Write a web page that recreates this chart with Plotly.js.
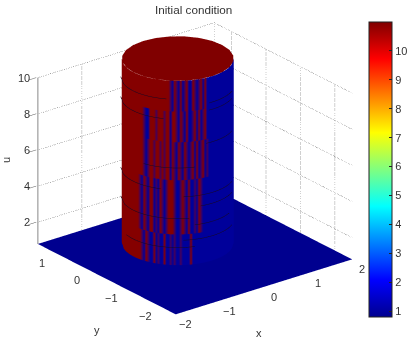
<!DOCTYPE html>
<html><head><meta charset="utf-8">
<script src="https://cdn.plot.ly/plotly-3.0.1.min.js"></script>
<style>html,body{margin:0;padding:0;background:#fff}#c{width:415px;height:344px}</style>
</head><body><div id="c"></div>
<script>
// ---- data ----
const floorX = [-2, 2];
const floorY = [-2.5, 1.5];
const floorU = [[0.8, 0.8], [0.8, 0.8]];
const topU = 11;
const radius = 1;
const capAngles = [0,15,30,45,60,75,90,105,120,135,150,165,180,195,210,225,240,255,270,285,300,315,330,345,360];
const capRadii = [0, 1];
const colorTicks = [1,2,3,4,5,6,7,8,9,10];
const zTicks = [2,4,6,8,10];
const xTicks = [-2,-1,0,1,2];
const yTicks = [-2,-1,0,1];
const xTickText = ['−2','−1','0','1','2'];
const yTickText = ['−2','−1','0','1'];
const gridLevels = [2,4,6,8,10];
const gridXs = [-1,0,1];
const gridYs = [-2,-1,0,1];
// wall colour bands, bottom to top: r = red, m = mixed, b = blue (left-to-right on screen)
const bandHeights = [0.8, 2.5, 2.5, 5.5, 5.5, 7.6, 7.6, 9.3, 9.3, 11];
const bandD = 'rrrrrrrrrrmbrmbbrbmbbrbbmbmbbmbbbbrbbbbbbbbbbbbbbbbbbbbb';
const bandC = 'rrrrrrrrrmbrmbrrbmbrmbmrrrmbbmrmbrbbmbrmbbbbbbbbbbbbbbbb';
const bandE = 'rrrrrrrrrrrmbmrrmrrmrmrrbrmbrmbrmbmrbrbmrbmbbbbbbbbbbbbb';
const bandB = 'rrrrrrrrrrrmbbrrrmrrrmrrbrrmbrmbrbbmrbrbmrbbbbbbbbbbbbbb';
const bandA = 'rrrrrrrrrrrrrrrrrrrrrrrrmbrmbrbmrbbrmbmrbrbbbbbbbbbbbbbb';
const bandOrder = [bandD, bandD, bandC, bandC, bandE, bandE, bandB, bandB, bandA, bandA];
const bandLevel = {r: 0, m: 0.5, b: 1};
// dark rings on the wall: height, start and end across the wall (-1 left, 1 right)
const ringHeights = [10.0, 8.9, 9.6, 9.2, 7.4, 6.2, 4.6, 4.0, 3.4, 2.2, 1.8, 3.0, 5.0];
const ringStarts  = [-1.0, -1.0, 0.55, 0.55, 0.5, -0.6, 0.1, 0.4, -1.0, 0.1, -0.9, 0.3, -1.0];
const ringEnds    = [-0.2, -0.25, 0.95, 0.95, 0.95, 0.3, 0.95, 0.95, 0.2, 0.95, 0.3, 0.9, -0.3];

// ---- view and helper geometry ----
const az = 38 * Math.PI / 180, el = 23.5 * Math.PI / 180;
const R = [Math.cos(az), -Math.sin(az)], F = [-Math.sin(az), -Math.cos(az)];
function wallPoint(d) {
  const h = Math.sqrt(Math.max(0, 1 - d * d));
  return [radius * (d * R[0] + h * F[0]), radius * (d * R[1] + h * F[1])];
}
const jet = [[0,'#00008f'],[0.125,'#0000ff'],[0.375,'#00ffff'],[0.625,'#ffff00'],[0.875,'#ff0000'],[1,'#800000']];
const cmin = 0.8, cmax = 11;
const flat = {ambient:1, diffuse:0, specular:0, fresnel:0, roughness:1};
const traces = [];

traces.push({type:'surface', x:floorX, y:floorY, z:floorU, surfacecolor:floorU,
  colorscale:jet, cmin, cmax, lighting:flat, hoverinfo:'skip', showscale:true,
  colorbar:{x:369/415, xanchor:'left', xref:'paper', thickness:23, thicknessmode:'pixels', xpad:0, ypad:0,
    len:295, lenmode:'pixels', y:1-169.5/344, yanchor:'middle', yref:'paper',
    tickmode:'array', tickvals:colorTicks, ticktext:colorTicks.map(String), ticks:'inside', ticklen:3, tickcolor:'#222',
    outlinecolor:'#222', outlinewidth:1, tickfont:{family:'Liberation Sans', size:11, color:'#333'}}});

// top cap
const capX = capRadii.map(r => capAngles.map(a => r * radius * Math.cos(a * Math.PI / 180)));
const capY = capRadii.map(r => capAngles.map(a => r * radius * Math.sin(a * Math.PI / 180)));
const capZ = capRadii.map(() => capAngles.map(() => topU));
traces.push({type:'surface', x:capX, y:capY, z:capZ, surfacecolor:capZ, colorscale:jet, cmin, cmax,
  lighting:flat, hoverinfo:'skip', showscale:false});

// wall, as a mesh so that uneven spacing is kept
const nCols = bandA.length;
const wallD = Array.from({length:nCols}, (_, i) => -1 + 2 * i / (nCols - 1));
const mx = [], my = [], mz = [], mc = [], mi = [], mj = [], mk = [];
bandHeights.forEach((h, r) => {
  wallD.forEach((d, c) => {
    const p = wallPoint(d);
    mx.push(p[0]); my.push(p[1]); mz.push(h); mc.push(bandLevel[bandOrder[r][c]]);
    if (r < bandHeights.length - 1 && c < nCols - 1) {
      const a = r * nCols + c, b = a + 1, e = a + nCols, f = e + 1;
      mi.push(a, a); mj.push(b, f); mk.push(f, e);
    }
  });
});
traces.push({type:'mesh3d', x:mx, y:my, z:mz, i:mi, j:mj, k:mk, intensity:mc, cmin:0, cmax:1,
  colorscale:[[0,'#850000'],[0.5,'#45005a'],[1,'#00009a']], lighting:flat, hoverinfo:'skip', showscale:false});

// rings
ringHeights.forEach((h, i) => {
  const n = 16, xs = [], ys = [], zs = [];
  for (let k = 0; k <= n; k++) {
    const d = ringStarts[i] + (ringEnds[i] - ringStarts[i]) * k / n;
    const p = wallPoint(d); xs.push(p[0] * 1.02); ys.push(p[1] * 1.02); zs.push(h);
  }
  traces.push({type:'scatter3d', mode:'lines', x:xs, y:ys, z:zs, line:{color:'#160822', width:1}, hoverinfo:'skip', showlegend:false});
});

// dotted walls
const xMin = floorX[0], xMax = floorX[1], yMin = floorY[0], yMax = floorY[1];
const topZ = gridLevels[gridLevels.length - 1], botZ = floorU[0][0];
function dotted(xs, ys, zs) {
  traces.push({type:'scatter3d', mode:'lines', x:xs, y:ys, z:zs, line:{color:'#444', width:1, dash:'dot'}, hoverinfo:'skip', showlegend:false});
}
gridLevels.forEach(z => dotted([xMin, xMax, xMax], [yMax, yMax, yMin], [z, z, z]));
gridXs.forEach(x => dotted([x, x], [yMax, yMax], [botZ, topZ]));
gridYs.forEach(y => dotted([xMax, xMax], [y, y], [botZ, topZ]));
dotted([xMax, xMax], [yMax, yMax], [botZ, topZ]);
// solid z axis
traces.push({type:'scatter3d', mode:'lines', x:[xMin, xMin], y:[yMax, yMax], z:[botZ, topZ], line:{color:'#888', width:2}, hoverinfo:'skip', showlegend:false});

const tickFont = {family:'Liberation Sans', size:11, color:'#333'};
const ax = {showgrid:false, zeroline:false, showline:false, showbackground:false, showspikes:false,
  showticklabels:false, tickfont:tickFont, tickangle:0, ticks:'', title:{text:''}};
const pad = 0.02;
const eyeLen = 2;
const sceneLabels = [
  ...zTicks.map(z => ({x:xMin, y:yMax, z:z, text:String(z), showarrow:false, xanchor:'right', xshift:-6, yanchor:'middle', font:tickFont})),
  ...xTicks.map((v, i) => ({x:v, y:yMin, z:botZ, text:xTickText[i], showarrow:false, xanchor:'center', yanchor:'middle', xshift:10, yshift:-10, font:tickFont})),
  ...yTicks.map((v, i) => ({x:xMin, y:v, z:botZ, text:yTickText[i], showarrow:false, xanchor:'center', yanchor:'middle', xshift:-13, yshift:-10, font:tickFont}))
];
const layout = {
  width:415, height:344, margin:{l:0, r:0, t:0, b:0, autoexpand:false}, paper_bgcolor:'#fff', showlegend:false,
  scene:{
    domain:{x:[0,1-25/415], y:[25/344,1]},
    xaxis:Object.assign({}, ax, {range:[xMin-pad, xMax+pad], tickmode:'array', tickvals:xTicks}),
    yaxis:Object.assign({}, ax, {range:[yMin-pad, yMax+pad], tickmode:'array', tickvals:yTicks}),
    zaxis:Object.assign({}, ax, {range:[botZ-pad, topU+pad], tickmode:'array', tickvals:zTicks, ticks:'outside', ticklen:3, tickcolor:'#555'}),
    aspectmode:'manual', aspectratio:{x:1.418, y:1.418, z:1.265},
    camera:{projection:{type:'orthographic'},
      eye:{x:-eyeLen*Math.sin(az)*Math.cos(el), y:-eyeLen*Math.cos(az)*Math.cos(el), z:eyeLen*Math.sin(el)},
      center:{x:0,y:0,z:0}, up:{x:0,y:0,z:1}},
    annotations: sceneLabels
  },
  annotations:[
    {text:'Initial condition', xref:'paper', yref:'paper', x:193/415, y:1-9/344, yanchor:'middle', xanchor:'center', showarrow:false, font:{family:'Liberation Sans', size:11.7, color:'#333'}},
    {text:'x', xref:'paper', yref:'paper', x:259/415, y:1-333/344, yanchor:'middle', xanchor:'center', showarrow:false, font:{family:'Liberation Sans', size:11, color:'#333'}},
    {text:'y', xref:'paper', yref:'paper', x:97/415, y:1-330/344, yanchor:'middle', xanchor:'center', showarrow:false, font:{family:'Liberation Sans', size:11, color:'#333'}},
    {text:'u', xref:'paper', yref:'paper', x:6/415, y:1-160/344, yanchor:'middle', xanchor:'center', showarrow:false, textangle:-90, font:{family:'Liberation Sans', size:11, color:'#333'}}
  ]
};
Plotly.newPlot('c', traces, layout, {displayModeBar:false});
</script>
</body></html>
